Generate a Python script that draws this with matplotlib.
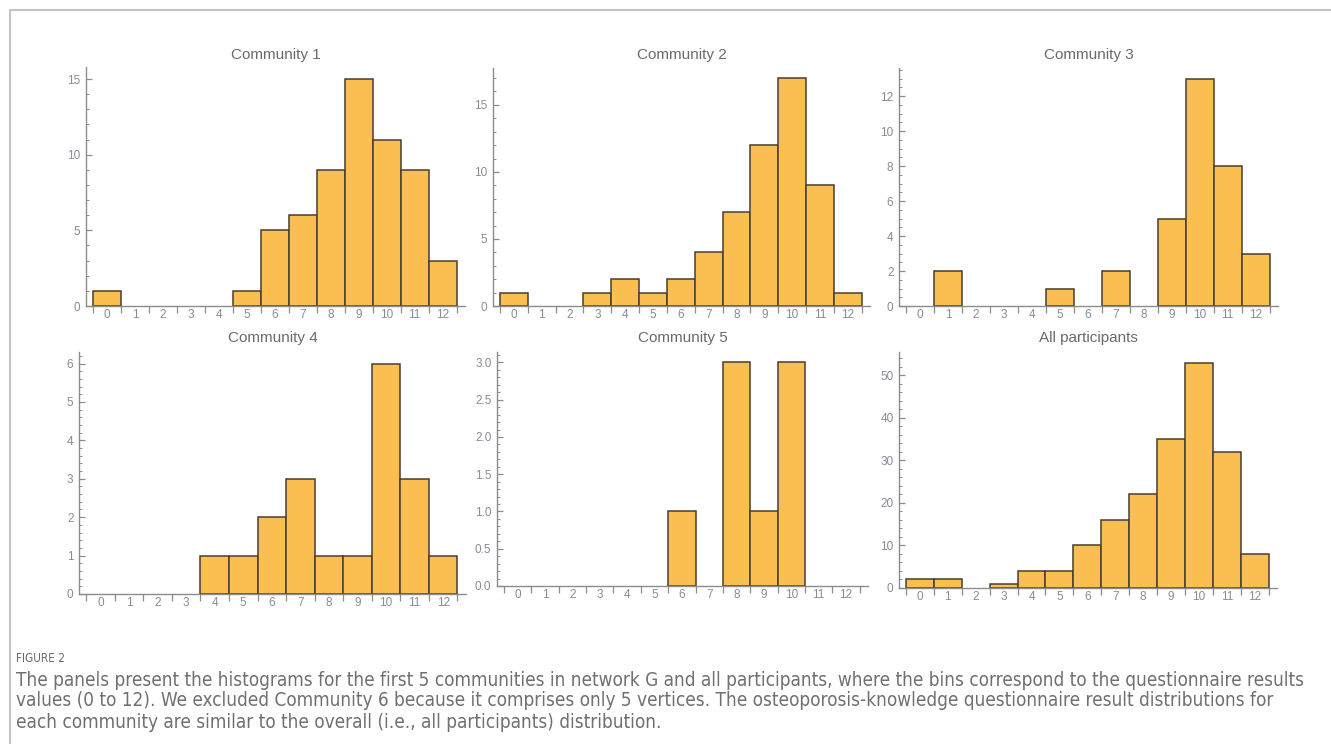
import matplotlib
matplotlib.use("Agg")
import matplotlib.pyplot as plt
from matplotlib.ticker import MultipleLocator, FormatStrFormatter, NullFormatter, FixedLocator
from matplotlib.lines import Line2D
from matplotlib import font_manager
from matplotlib.font_manager import FontProperties

# ---------------- data ----------------
bins = list(range(13))
bin_labels = [str(b) for b in bins]
titles = ["Community 1", "Community 2", "Community 3",
          "Community 4", "Community 5", "All participants"]
community1 = [1, 0, 0, 0, 0, 1, 5, 6, 9, 15, 11, 9, 3]
community2 = [1, 0, 0, 1, 2, 1, 2, 4, 7, 12, 17, 9, 1]
community3 = [0, 2, 0, 0, 0, 1, 0, 2, 0, 5, 13, 8, 3]
community4 = [0, 0, 0, 0, 1, 1, 2, 3, 1, 1, 6, 3, 1]
community5 = [0, 0, 0, 0, 0, 0, 1, 0, 3, 1, 3, 0, 0]
all_participants = [2, 2, 0, 1, 4, 4, 10, 16, 22, 35, 53, 32, 8]
series = [community1, community2, community3, community4, community5, all_participants]

caption_head = "FIGURE 2"
caption_lines = [
    "The panels present the histograms for the first 5 communities in network G and all participants, where the bins correspond to the questionnaire results",
    "values (0 to 12). We excluded Community 6 because it comprises only 5 vertices. The osteoporosis-knowledge questionnaire result distributions for",
    "each community are similar to the overall (i.e., all participants) distribution.",
]

# ---------------- layout ----------------
W, H = 1331, 744
fig = plt.figure(figsize=(W / 100, H / 100), dpi=100)
fig.patch.set_facecolor("white")

sans = ["Liberation Sans", "DejaVu Sans"]

# look for a condensed/narrow face for the caption
cap_fp = None
for f in font_manager.fontManager.ttflist:
    nm = f.name
    if (("Narrow" in nm or "Condensed" in nm or str(f.stretch) in ("condensed", "semi-condensed"))
            and f.style == "normal" and str(f.weight) in ("400", "normal", "regular", "book")):
        cap_fp = FontProperties(fname=f.fname)
        break
if cap_fp is None:
    cap_fp = FontProperties(family=["Roboto", "DejaVu Sans"])

# (left, top, right, bottom, ymax, major, minor, fmt, title_y)
panels = [
    (86, 67, 465, 306, 15.8, 5, 1, "%d", 55),
    (493, 68, 870, 306, 17.75, 5, 1, "%d", 55),
    (899, 68, 1278, 306, 13.6, 2, 0.5, "%d", 55),
    (79, 352, 466, 594, 6.3, 1, 0.2, "%d", 338),
    (497, 352, 868, 586, 3.14, 0.5, 0.1, "%.1f", 338),
    (899, 352, 1277, 588, 55.5, 10, 2, "%d", 338),
]

bar_color = "#FBBE50"
edge_color = "#463e32"
axis_color = "#8c8c8c"
label_color = "#868c99"
title_color = "#6a6a6a"

for (l, t, r, b, ymax, maj, mnr, fmt, ty), title, counts in zip(panels, titles, series):
    ax = fig.add_axes([l / W, 1 - b / H, (r - l) / W, (b - t) / H])
    xs = [x for x, c in zip(bins, counts) if c > 0]
    hs = [c for c in counts if c > 0]
    ax.bar(xs, hs, width=1, align="edge", color=bar_color,
           edgecolor=edge_color, linewidth=1.1, zorder=2)
    ax.set_xlim(-0.25, 13.3)
    ax.set_ylim(0, ymax)
    for s in ("top", "right"):
        ax.spines[s].set_visible(False)
    for s in ("left", "bottom"):
        ax.spines[s].set_color(axis_color)
        ax.spines[s].set_linewidth(1.0)
        ax.spines[s].set_zorder(3)

    # x axis: ticks at bin edges, labels at bin centres
    ax.xaxis.set_major_locator(FixedLocator([x for x in range(14)]))
    ax.xaxis.set_major_formatter(NullFormatter())
    ax.xaxis.set_minor_locator(FixedLocator([x + 0.5 for x in bins]))
    ax.set_xticklabels(bin_labels, minor=True)
    ax.tick_params(axis="x", which="major", direction="out", length=5,
                   width=0.9, color=axis_color)
    ax.tick_params(axis="x", which="minor", length=0, pad=2,
                   labelsize=8.5, labelcolor=label_color)

    # y axis
    ax.yaxis.set_major_locator(MultipleLocator(maj))
    ax.yaxis.set_minor_locator(MultipleLocator(mnr))
    ax.yaxis.set_major_formatter(FormatStrFormatter(fmt))
    ax.tick_params(axis="y", which="major", direction="in", length=4,
                   width=0.9, color=axis_color, pad=4,
                   labelsize=8.5, labelcolor=label_color)
    ax.tick_params(axis="y", which="minor", direction="in", length=2,
                   width=0.7, color=axis_color)
    for lab in ax.get_xticklabels(minor=True) + ax.get_yticklabels():
        lab.set_family(sans)
    ax.patch.set_alpha(0)

    fig.text((l + r) / 2 / W, 1 - ty / H, title, ha="center", va="center",
             fontsize=11, color=title_color, family=sans)

# frame around the figure
fig.add_artist(Line2D([9.5 / W, 9.5 / W, 1.0], [0.0, 1 - 10 / H, 1 - 10 / H],
                      transform=fig.transFigure, color="#c4c4c4", linewidth=1.5))

# caption
fig.text(16 / W, 1 - 658 / H, caption_head, ha="left", va="center",
         fontproperties=cap_fp, fontsize=8.5, color="#6a6a6a")
renderer = fig.canvas.get_renderer()
probe = fig.text(16 / W, 0.5, caption_lines[0], fontproperties=cap_fp, fontsize=12)
wpx = probe.get_window_extent(renderer).width
probe.remove()
cap_size = min(13.6, 12 * (1300 / wpx))
for y, line in zip([680, 701, 722], caption_lines):
    fig.text(16 / W, 1 - y / H, line, ha="left", va="center",
             fontproperties=cap_fp, fontsize=cap_size, color="#707070")

fig.savefig("out.png", dpi=100)
